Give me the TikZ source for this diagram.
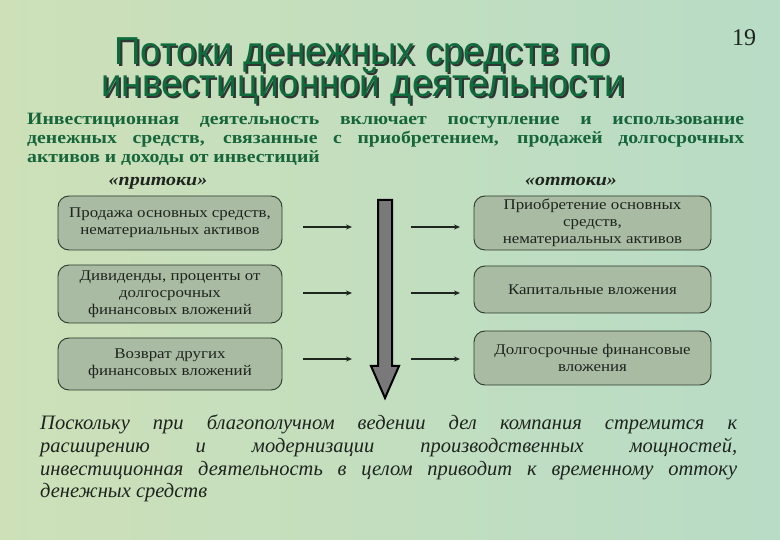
\documentclass[tikz,border=0pt]{standalone}
\usepackage{fontspec}
\setmainfont{Liberation Serif}
\newfontfamily\titlefont[FakeStretch=0.94]{Liberation Sans}
\newfontfamily\boxfont[FakeStretch=1.14]{Liberation Serif}
\usetikzlibrary{arrows.meta}
\definecolor{bgA}{HTML}{CDE0B8}
\definecolor{bgB}{HTML}{B8DCC6}
\definecolor{titlegreen}{HTML}{0E6B3C}
\definecolor{paragreen}{HTML}{17653A}
\definecolor{boxfill}{HTML}{A9BBA3}
\definecolor{boxdraw}{HTML}{2B3A2B}
\definecolor{darktext}{HTML}{1E241E}
\tikzset{
  flowbox/.style={draw=boxdraw, line width=0.9pt, fill=boxfill, rounded corners=11pt,
    minimum width=224pt, align=center, text=darktext, inner sep=1pt,
    font=\boxfont\fontsize{14.8}{17}\selectfont},
  smallarrow/.style={draw=darktext, line width=1.3pt, -{Stealth[length=6pt,width=5pt]}},
  titletext/.style={font=\titlefont\fontsize{39}{39}\selectfont, inner sep=0pt, anchor=base},
  flowlabel/.style={font=\boxfont\bfseries\itshape\fontsize{17.5}{17.5}\selectfont, text=darktext, anchor=base},
}
\begin{document}
\begin{tikzpicture}[x=1pt,y=-1pt]
\useasboundingbox (0,0) rectangle (780,540);
\shade[left color=bgA, right color=bgB] (0,0) rectangle (780,540);
% title with shadow
\node[titletext, text=black!80] at (364,67) {Потоки денежных средств по};
\node[titletext, text=titlegreen] (t1) at (362,65) {Потоки денежных средств по};
\node[titletext, text=black!80] at (365,99) {инвестиционной деятельности};
\node[titletext, text=titlegreen] (t2) at (363,97) {инвестиционной деятельности};
\node[font=\fontsize{24}{24}\selectfont, text=darktext, anchor=base] (num) at (744,46) {19};
% intro paragraph
\node[anchor=base west, text width=717pt, align=justify, inner sep=0pt, text=paragreen,
  font=\boxfont\bfseries\fontsize{17.3}{19}\selectfont] (intro) at (27,125)
  {Инвестиционная деятельность включает поступление и использование\linebreak денежных средств, связанные с приобретением, продажей долгосрочных\linebreak активов и доходы от инвестиций};
\node[flowlabel] (in) at (158,186) {«притоки»};
\node[flowlabel] (out) at (571,186) {«оттоки»};
% left boxes
\node[flowbox, minimum height=54pt] (l1) at (170,223) {Продажа основных средств,\\ нематериальных активов};
\node[flowbox, minimum height=58pt] (l2) at (170,294) {Дивиденды, проценты от\\ долгосрочных\\ финансовых вложений};
\node[flowbox, minimum height=52pt] (l3) at (170,364) {Возврат других\\ финансовых вложений};
% right boxes
\node[flowbox, minimum width=237pt, minimum height=54pt] (r1) at (592.5,223) {Приобретение основных\\ средств,\\ нематериальных активов};
\node[flowbox, minimum width=237pt, minimum height=47pt] (r2) at (592.5,289.5) {Капитальные вложения};
\node[flowbox, minimum width=237pt, minimum height=54pt] (r3) at (592.5,358) {Долгосрочные финансовые\\ вложения};
% big arrow
\draw[line width=2pt, fill=gray!95!black] (378,200) -- (392,200) -- (392,366) -- (399,366)
  -- (385,398) -- (371,366) -- (378,366) -- cycle;
% small arrows
\foreach \i/\y in {1/227,2/293,3/359}{
  \coordinate (la\i) at (303,\y); \coordinate (lb\i) at (352,\y);
  \coordinate (ra\i) at (411,\y); \coordinate (rb\i) at (460,\y);
  \draw[smallarrow] (la\i) -- (lb\i);
  \draw[smallarrow] (ra\i) -- (rb\i);
}
% bottom paragraph
\node[anchor=base west, text width=697pt, align=justify, inner sep=0pt, text=darktext,
  font=\itshape\fontsize{20.5}{23}\selectfont] (concl) at (40,429)
  {Поскольку при благополучном ведении дел компания стремится к\linebreak расширению и модернизации производственных мощностей,\linebreak инвестиционная деятельность в целом приводит к временному оттоку\linebreak денежных средств};
\end{tikzpicture}
\end{document}
